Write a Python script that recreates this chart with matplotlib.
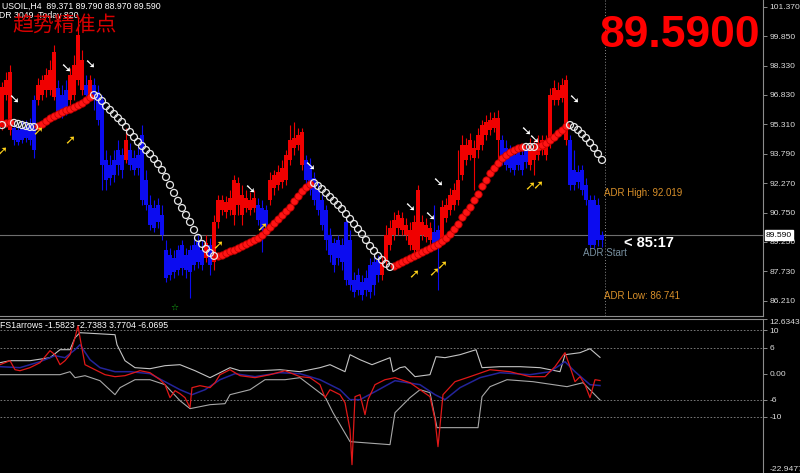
import matplotlib
matplotlib.use("Agg")
import matplotlib.pyplot as plt
import numpy as np

plt.rcParams['font.family'] = ['Liberation Sans', 'DejaVu Sans']

# ---------------- data ----------------
header_main = "USOIL,H4  89.371 89.790 88.970 89.590"
header_adr = "ADR 3049  Today 820"
title_cn = "趋势精准点"
big_price = "89.5900"
countdown = "< 85:17"
adr_high = 92.019
adr_low = 86.741
last_price = 89.590

opens = [95.18, 96.83, 95.03, 95.13, 95.03, 95.13, 95.18, 95.28, 96.57, 96.57,
         96.83, 97.09, 97.09, 96.73, 97.19, 96.83, 97.09, 96.57, 96.83, 97.60,
         97.09, 97.35, 96.83, 97.35, 96.99, 96.57, 93.48, 93.22, 93.48, 93.99,
         93.74, 93.48, 93.99, 93.58, 93.74, 94.77, 92.45, 91.16, 91.00, 91.16,
         90.64, 88.84, 88.58, 88.43, 88.84, 89.10, 88.58, 88.84, 89.10, 89.25,
         88.84, 88.43, 89.10, 88.22, 90.28, 90.90, 90.80, 90.90, 90.64, 91.16,
         90.64, 91.00, 90.90, 91.00, 91.16, 91.00, 90.90, 91.42, 92.03, 92.19,
         92.34, 92.45, 93.48, 94.10, 94.25, 93.22, 93.48, 93.22, 92.55, 91.93,
         91.42, 90.90, 89.61, 89.20, 89.35, 89.10, 90.28, 89.35, 87.29, 87.55,
         87.19, 87.39, 88.06, 88.22, 88.32, 87.55, 88.22, 89.10, 89.61, 89.97,
         89.87, 89.61, 89.10, 88.84, 88.68, 89.61, 89.51, 89.35, 89.77, 89.87,
         89.35, 90.49, 90.90, 91.16, 91.42, 92.71, 93.48, 93.74, 93.58, 93.99,
         94.25, 94.77, 95.03, 95.13, 94.51, 94.51, 94.10, 93.99, 93.74, 93.89,
         93.74, 93.99, 93.22, 93.48, 93.74, 93.99, 93.74, 94.36, 96.57, 96.57,
         96.68, 94.51, 94.51, 92.96, 92.86, 92.96, 92.19, 91.42, 91.42, 91.16,
         89.371]
highs = [97.50, 98.02, 98.38, 95.44, 95.28, 95.54, 95.54, 95.64, 96.83, 97.71,
         97.86, 98.22, 98.64, 99.41, 97.60, 97.35, 97.60, 98.22, 98.89, 100.80,
         99.15, 97.86, 97.86, 97.71, 97.35, 96.83, 93.99, 93.74, 93.99, 94.51,
         94.10, 95.13, 94.36, 93.99, 94.25, 95.28, 92.96, 91.67, 91.42, 91.52,
         91.16, 89.35, 88.94, 88.84, 89.10, 89.35, 88.94, 89.10, 89.46, 89.61,
         89.35, 89.61, 89.46, 90.64, 91.67, 91.67, 91.62, 91.93, 92.71, 92.60,
         92.19, 91.93, 91.83, 91.93, 91.52, 91.42, 91.16, 92.86, 92.96, 93.22,
         93.48, 93.99, 95.28, 95.44, 95.13, 95.13, 93.74, 93.58, 92.86, 92.34,
         91.67, 91.16, 89.97, 89.46, 89.61, 89.46, 90.49, 89.87, 87.70, 87.91,
         87.55, 87.81, 88.43, 88.58, 88.58, 88.58, 90.13, 90.38, 90.80, 90.90,
         90.80, 90.49, 90.28, 90.64, 92.19, 90.64, 90.49, 90.28, 91.16, 90.13,
         91.42, 91.52, 92.03, 92.29, 93.99, 94.77, 94.61, 94.87, 94.51, 95.13,
         95.54, 95.80, 95.95, 95.95, 96.06, 94.77, 94.51, 94.25, 94.10, 94.25,
         94.10, 94.25, 94.61, 94.51, 94.77, 94.77, 94.77, 97.19, 97.60, 97.50,
         97.71, 97.86, 94.77, 93.99, 93.22, 93.22, 92.55, 91.67, 91.67, 91.52,
         89.79]
lows = [95.03, 96.57, 94.77, 94.25, 94.25, 94.36, 94.41, 94.25, 93.58, 96.31,
        96.57, 96.73, 96.83, 96.57, 95.64, 95.64, 95.80, 96.31, 96.57, 97.35,
        96.83, 96.57, 96.57, 96.06, 95.28, 91.93, 91.93, 92.19, 92.34, 92.71,
        92.55, 93.32, 92.96, 92.71, 92.71, 91.16, 90.90, 89.87, 89.77, 89.97,
        89.35, 87.19, 87.29, 87.39, 87.55, 87.55, 87.39, 86.36, 87.81, 87.91,
        87.81, 88.22, 87.55, 87.81, 89.97, 90.64, 90.49, 90.64, 90.13, 90.64,
        90.13, 90.80, 90.64, 90.80, 90.13, 88.73, 89.77, 91.16, 91.67, 91.93,
        92.03, 92.19, 93.22, 93.74, 93.99, 92.96, 92.19, 91.67, 91.16, 90.64,
        89.87, 88.84, 88.22, 87.70, 88.06, 87.81, 87.03, 86.78, 86.41, 86.52,
        86.26, 86.47, 86.36, 86.52, 87.19, 87.29, 87.91, 88.84, 89.35, 89.61,
        89.61, 89.35, 88.84, 88.58, 88.43, 89.35, 89.25, 89.10, 88.84, 86.78,
        89.10, 90.28, 90.64, 90.90, 91.16, 92.45, 93.22, 93.48, 91.93, 93.58,
        93.99, 94.51, 94.77, 94.92, 93.48, 93.22, 92.96, 92.86, 92.71, 92.96,
        92.71, 93.07, 92.96, 92.71, 93.48, 93.74, 93.48, 94.10, 96.31, 96.31,
        96.47, 94.25, 91.93, 91.93, 92.03, 91.67, 91.16, 88.94, 88.94, 89.04,
        88.97]
closes = [97.24, 97.60, 98.02, 94.51, 94.41, 94.51, 94.61, 94.51, 93.99, 97.35,
          97.60, 97.86, 98.12, 99.05, 95.80, 95.95, 96.16, 97.86, 98.38, 99.92,
          98.64, 96.83, 97.60, 96.57, 95.54, 93.22, 92.45, 92.55, 92.71, 93.22,
          92.96, 94.51, 93.22, 92.96, 93.07, 91.42, 91.16, 90.13, 89.97, 90.28,
          89.61, 87.39, 87.55, 87.70, 87.81, 87.91, 87.81, 87.70, 88.06, 88.22,
          88.06, 89.20, 88.06, 90.28, 91.42, 91.42, 91.31, 91.52, 92.45, 92.29,
          91.67, 91.52, 91.42, 91.52, 90.38, 89.87, 90.13, 92.45, 92.71, 92.86,
          93.07, 93.74, 94.51, 94.61, 94.77, 94.92, 92.45, 91.93, 91.42, 90.90,
          90.13, 89.35, 88.58, 88.06, 88.43, 88.22, 87.29, 87.03, 86.67, 86.78,
          86.52, 86.78, 86.67, 87.03, 87.55, 88.22, 89.61, 89.97, 90.38, 90.64,
          90.49, 90.13, 89.87, 90.28, 91.93, 90.28, 90.13, 89.97, 89.10, 89.25,
          91.06, 91.16, 91.67, 91.93, 92.45, 94.25, 94.25, 94.51, 94.10, 94.77,
          95.28, 95.44, 95.54, 95.64, 95.64, 93.48, 93.22, 93.07, 92.96, 93.22,
          92.96, 93.38, 94.25, 94.10, 94.36, 94.51, 94.41, 96.83, 97.19, 97.09,
          97.35, 97.60, 92.19, 92.19, 92.34, 91.93, 91.42, 89.10, 89.10, 89.35,
          89.59]
# candle colour state (1 = red/up trend, 0 = blue/down trend)
candle_state = ("111" "000000" "11111" "000" "1111" "0" "1" "00000000" "1"
                "0000000000000000000" "1" "0" "11111111111" "000" "111111111"
                "0000000000000000000" "1111111111111" "00" "111111111111111"
                "0000000" "1111111111" "000000000")

trend_line = [95.28, 95.39, 95.44, 95.39, 95.34, 95.28, 95.23, 95.18, 95.18,
              95.23, 95.34, 95.49, 95.64, 95.75, 95.85, 95.95, 96.06, 96.11, 96.21,
              96.31, 96.42, 96.57, 96.73, 96.83, 96.73, 96.52, 96.26, 96.06, 95.85,
              95.64, 95.44, 95.18, 94.92, 94.66, 94.41, 94.20, 93.99, 93.79, 93.53,
              93.27, 92.96, 92.60, 92.19, 91.78, 91.37, 91.00, 90.64, 90.28, 89.87,
              89.46, 89.15, 88.89, 88.68, 88.53, 88.53, 88.58, 88.68, 88.79, 88.84,
              88.94, 89.04, 89.15, 89.25, 89.35, 89.46, 89.61, 89.82, 90.02, 90.23,
              90.44, 90.64, 90.85, 91.06, 91.37, 91.62, 91.88, 92.09, 92.24, 92.29,
              92.14, 91.98, 91.78, 91.57, 91.37, 91.16, 90.95, 90.69, 90.44, 90.18,
              89.92, 89.66, 89.35, 89.04, 88.79, 88.53, 88.32, 88.12, 87.96, 88.01,
              88.12, 88.22, 88.32, 88.43, 88.53, 88.63, 88.73, 88.84, 88.94, 89.04,
              89.15, 89.30, 89.46, 89.66, 89.92, 90.18, 90.54, 90.80, 91.06, 91.42,
              91.73, 92.14, 92.45, 92.81, 93.07, 93.32, 93.58, 93.74, 93.89, 93.99,
              94.10, 94.15, 94.15, 94.15, 94.15, 94.15, 94.25, 94.36, 94.51, 94.66,
              94.87, 95.03, 95.23, 95.28, 95.18, 95.03, 94.82, 94.61, 94.36, 94.10,
              93.79, 93.48]
# trend line state (1 = red dots, 0 = hollow white circles)
trend_state = ("0" "11" "000000" "11111111111111" "0000000000000000000000000000000"
               "111111111111111111111111" "00000000000000000000"
               "111111111111111111111111111111111" "000" "11111111" "000000000")

white_arrow_bars = [3, 16, 22, 62, 77, 102, 107, 109, 131, 133, 143]
white_arrow_prices = [96.57, 98.17, 98.38, 91.93, 93.12, 91.00, 90.54, 92.29, 94.92, 94.51, 96.57]
yellow_arrow_bars = [0, 9, 17, 54, 65, 103, 108, 110, 132, 134]
yellow_arrow_prices = [93.89, 94.92, 94.46, 89.04, 89.97, 87.55, 87.65, 88.01, 92.09, 92.14]
star_bar, star_price = 43, 85.90

price_ticks = [101.370, 99.850, 98.330, 96.830, 95.310, 93.790, 92.270, 90.750, 89.250, 87.730, 86.210]

# oscillator (FS1arrows)
osc_header = "FS1arrows -1.5823 -2.7383 3.7704 -6.0695"
osc_top, osc_bottom = 12.6343, -22.9477
osc_levels = [10, 6, -6, -10]
osc_ticks = [12.6343, 10, 6, 0, -6, -10, -22.9477]
osc_tick_labels = ["12.6343", "10", "6", "0.00", "-6", "-10", "-22.9477"]

upper_bars = [-0.5, 2, 7, 12, 14.5, 17, 18.25, 19.5, 28.25, 28.75, 30.75, 33.25, 37, 40.75, 44.5,
              48.25, 52, 54.5, 57, 59.5, 64.5, 69.5, 74.5, 79.5, 82, 85.75, 87, 89.5, 92.5, 97,
              97.75, 99.5, 100.75, 103.25, 107, 108.5, 110.75, 114.5, 118.5, 120, 124.5, 129.5,
              134.5, 139.5, 140.75, 144.5, 147, 149.5]
upper_vals = [2.54, 3.0, 3.0, 3.70, 5.54, 5.54, 8.31, 9.47, 9.01, 6.70, 3.0, 1.39, 1.15, 1.85, 2.08,
              0.69, -0.92, 0.23, 1.39, 0.69, 0.69, 0.92, 0.46, 1.39, 2.08, 0.46, 4.39, 3.23, 2.08, 3.70,
              0.46, 1.39, 1.62, -0.69, -0.23, 3.93, 3.70, 4.39, 5.54, 1.39, 1.62, 1.62, 1.39, 0.46,
              4.39, 4.85, 5.77, 3.77]
lower_bars = [-0.5, 7, 14.5, 17, 18.25, 20.75, 24.5, 28.25, 29.5, 33.25, 37, 40.75, 44.5, 47, 52,
              55.75, 57, 62, 65.75, 70.75, 74.5, 80.75, 82.75, 87, 97, 98.25, 102, 104.5, 107, 108.75,
              119, 120, 122, 126.25, 132.75, 141.25, 145.25, 149.5]
lower_vals = [-0.23, -0.23, -0.23, 0.46, -0.92, -0.46, -1.62, -4.85, -3.23, -1.39, -1.39, -2.54,
              -6.24, -8.08, -7.16, -6.93, -4.85, -3.70, -1.39, -1.39, -0.92, -5.31, -9.01, -15.70,
              -16.40, -9.01, -5.54, -3.70, -4.39, -12.47, -12.47, -5.31, -3.00, -1.39, -1.85, -3.00,
              -2.08, -6.07]
red_bars = [-0.5, 2, 3.25, 4.5, 7, 9.5, 12, 13.25, 14.5, 15.75, 17, 18.25, 19, 19.5, 20.75, 23.25,
            25.75, 28.25, 30.75, 34.5, 37, 39.5, 40.75, 42, 43.25, 44.5, 45.75, 47, 47.5, 49.5, 52,
            53.25, 54.5, 57, 59.5, 63.25, 67, 70.75, 74.5, 77, 79.5, 80.75, 82, 84.5, 85.75, 87, 87.5,
            88.25, 89.5, 90.75, 91.5, 93.25, 95.75, 98.25, 102, 107, 108.25, 109, 110.25, 113.25, 117,
            122, 127, 132, 135.75, 138.25, 140.75, 142, 143.25, 144.5, 145.75, 147, 148.25, 149.5]
red_vals = [2.08, 3.0, 0.92, 0.69, 1.39, 2.54, 5.31, 4.39, 2.08, 3.0, 4.39, 8.31, 11.09, 8.31, 2.08,
            0.92, -0.23, -0.69, -0.46, 0.69, 0.23, -1.39, -2.54, -5.54, -3.93, -4.62, -5.54, -7.85,
            -3.23, -2.77, -3.23, -2.08, -0.23, 0.92, -0.46, -0.92, -0.23, 0.69, -0.69, -0.92, -2.54,
            -5.54, -3.70, -4.85, -6.70, -12.93, -21.02, -5.31, -4.85, -9.47, -6.0, -2.54, -1.39, -0.92,
            -2.08, -5.31, -10.62, -16.86, -4.85, -1.85, -0.69, 0.92, 0.46, -0.69, -0.69, 1.62, 4.85,
            1.62, -1.85, -0.69, -2.54, -5.54, -1.39, -1.58]
blue_bars = [-0.5, 4.5, 9.5, 13.25, 15.75, 18.25, 19.5, 22, 24.5, 28.25, 32, 37, 40.75, 44.5, 47.5,
             50.75, 54.5, 58.25, 63.25, 69.5, 74.5, 79.5, 84.5, 87, 89.5, 93.25, 98.25, 104.5, 108.25,
             110.75, 114.5, 119.5, 124.5, 132, 137, 140.75, 143.25, 147, 149.5]
blue_vals = [1.62, 1.39, 2.77, 4.16, 3.70, 5.54, 6.70, 3.23, 1.39, 0.46, 0.46, 0, -1.85, -3.70, -4.85,
             -3.70, -1.39, 0, -0.69, 0.23, 0, -1.39, -3.70, -6.0, -6.0, -4.16, -1.62, -2.54, -4.85,
             -6.0, -3.23, -0.92, 0.23, -0.23, 0.46, 2.77, 0.46, -2.54, -2.74]

# ---------------- figure ----------------
W, H = 800, 473
fig = plt.figure(figsize=(W / 100, H / 100), dpi=100, facecolor='black')


def fx(x):
    return x / W


def fy(y):
    return 1 - y / H


AXR = 763
ax = fig.add_axes([0, fy(316), AXR / W, 316 / H])
ax2 = fig.add_axes([0, 0, AXR / W, 154 / H])
GRID = '#8c8c8c'
LABEL = '#dcdcdc'

for a in (ax, ax2):
    a.set_facecolor('black')
    a.set_xlim(-0.5, AXR / 4 - 0.5)
    a.set_xticks([])
    for s in ('left', 'top', 'bottom', 'right'):
        a.spines[s].set_visible(False)
    a.spines['right'].set_visible(True)
    a.spines['right'].set_color(GRID)
    a.spines['right'].set_linewidth(0.8)
    a.yaxis.tick_right()
    a.tick_params(axis='y', direction='out', length=3, width=0.7, color=GRID,
                  labelcolor=LABEL, labelsize=6.1, pad=1.5)
ax.spines['bottom'].set_visible(True)
ax.spines['bottom'].set_color(GRID)
ax2.spines['top'].set_visible(True)
ax2.spines['top'].set_color(GRID)

ax.set_ylim(85.43, 101.73)
ax.set_yticks(price_ticks)
ax.set_yticklabels([f"{t:.3f}" for t in price_ticks])

n = len(closes)
x = np.arange(n)
o = np.array(opens)
c = np.array(closes)
hi = np.array(highs)
lo = np.array(lows)
cols = ['#f00000' if s == '1' else '#0c0cf0' for s in candle_state]
ax.vlines(x, lo, hi, colors=cols, lw=0.8, zorder=2)
body_lo = np.minimum(o, c)
body_h = np.maximum(np.abs(c - o), 0.05)
ax.bar(x, body_h, bottom=body_lo, width=0.8, color=cols, linewidth=0, zorder=2)

# price line & ADR
ax.axhline(last_price, color='#6e6e6e', lw=0.8, zorder=1)
adr_x = n - 0.25
ax.axvline(adr_x, color='#8a8a8a', lw=0.7, ls=(0, (1, 2)), zorder=1)

tl = np.array(trend_line)
up = np.array([s == '1' for s in trend_state])
ax.scatter(x[up], tl[up], s=28, facecolor='#ff1414', edgecolor='#c00000', lw=0.6, zorder=5)
ax.scatter(x[~up], tl[~up], s=25, facecolor='none', edgecolor='#e6e6e6', lw=0.9, zorder=5)

for b, p in zip(white_arrow_bars, white_arrow_prices):
    ax.text(b, p, '➘', color='white', fontsize=9.5, fontweight='bold', ha='center',
            va='center', zorder=6, family=['DejaVu Sans'])
for b, p in zip(yellow_arrow_bars, yellow_arrow_prices):
    ax.text(b, p, '➚', color='#ffd21a', fontsize=9.5, fontweight='bold', ha='center',
            va='center', zorder=6, family=['DejaVu Sans'])
ax.text(star_bar, star_price, '☆', color='#18b018', fontsize=6.5, ha='center', va='center',
        family=['DejaVu Sans'])

ax.text(adr_x - 0.25, adr_high, f"ADR High: {adr_high:.3f}", color='#d9902a', fontsize=7,
        ha='left', va='top')
ax.text(adr_x - 0.25, adr_low, f"ADR Low: {adr_low:.3f}", color='#d9902a', fontsize=7,
        ha='left', va='top')
ax.text(adr_x, 88.68, "ADR Start", color='#7890a0', fontsize=7, ha='center', va='center')
ax.text(155.5, 89.20, countdown, color='white', fontsize=10.5, fontweight='bold',
        ha='left', va='center')

# price box on axis
fig.text(fx(766), fy(235), f"{last_price:.3f}", color='black', fontsize=6.1, ha='left',
         va='center', bbox=dict(boxstyle='square,pad=0.15', fc='white', ec='white'))

# headers
fig.text(fx(2), fy(6), header_main, color='white', fontsize=6.3, ha='left', va='center')
fig.text(fx(-7), fy(15), header_adr, color='white', fontsize=6.3, ha='left', va='center')
fig.text(fx(12), fy(25), title_cn, color='#d80000', fontsize=15, ha='left', va='center',
         family=['Noto Sans CJK SC'])
fig.text(fx(760), fy(47), big_price, color='#ff0000', fontsize=32, fontweight='bold',
         ha='right', va='baseline')

# ---------------- oscillator ----------------
ax2.set_ylim(osc_bottom, osc_top)
ax2.set_yticks(osc_ticks)
ax2.set_yticklabels(osc_tick_labels)
labs = ax2.get_yticklabels()
labs[0].set_va('top')
labs[-1].set_va('bottom')
for lv in osc_levels:
    ax2.axhline(lv, color='#8a8a8a', lw=0.6, ls=(0, (2, 2)), zorder=1)
ax2.plot(upper_bars, upper_vals, color='#c4c4c4', lw=0.8, zorder=2)
ax2.plot(lower_bars, lower_vals, color='#a8a8a8', lw=0.8, zorder=2)
ax2.plot(blue_bars, blue_vals, color='#24249a', lw=1.1, zorder=3)
ax2.plot(red_bars, red_vals, color='#e01818', lw=0.9, zorder=4)
fig.text(fx(0), fy(325), osc_header, color='white', fontsize=6.3, ha='left', va='center')

fig.savefig('out.png', dpi=100, facecolor='black')
